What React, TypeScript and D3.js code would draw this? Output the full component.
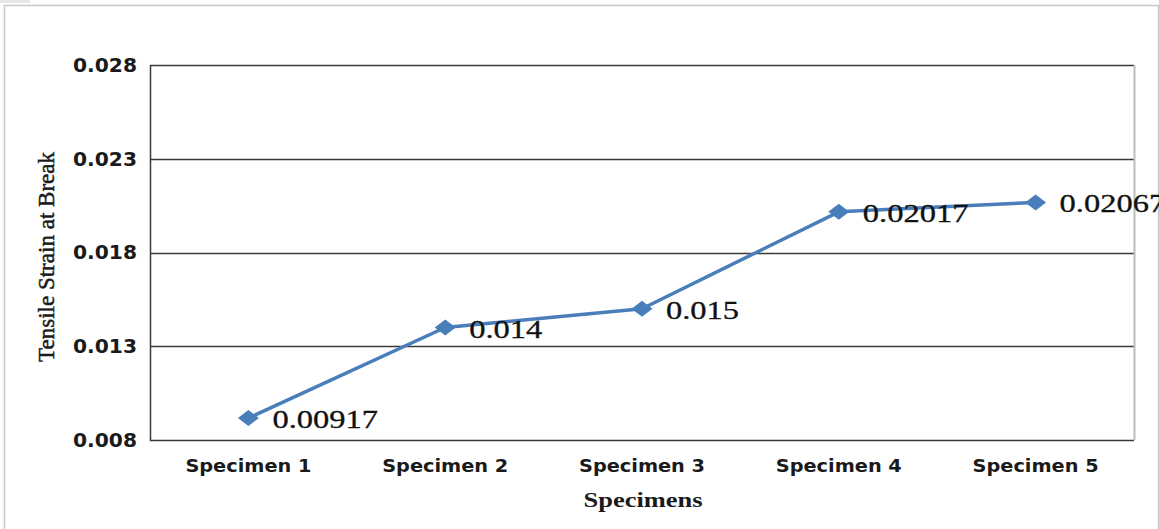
import React, { useEffect, useRef } from 'react';
import * as d3 from 'd3';

const specimens = ['Specimen 1', 'Specimen 2', 'Specimen 3', 'Specimen 4', 'Specimen 5'];
const strain = [0.00917, 0.014, 0.015, 0.02017, 0.02067];
const strainLabels = ['0.00917', '0.014', '0.015', '0.02017', '0.02067'];
const yTicks = [0.008, 0.013, 0.018, 0.023, 0.028];

const W = 1159;
const H = 529;

function StrainChart() {
  const ref = useRef<SVGSVGElement>(null);

  useEffect(() => {
    const svg = d3.select(ref.current);
    svg.selectAll('*').remove();

    const left = 150, right = 1134, top = 65, bottom = 440;

    const x = d3.scaleBand().domain(specimens).range([left, right]);
    const y = d3.scaleLinear().domain([0.008, 0.028]).range([bottom, top]);

    // outer frame (chart area border)
    svg.append('rect').attr('x', 0).attr('y', 0).attr('width', 30).attr('height', 3).attr('fill', '#e6e6e6');
    svg.append('path')
      .attr('d', `M4.5,${H} V5.5 H1158.5 V${H}`)
      .attr('fill', 'none')
      .attr('stroke', '#c8c8c8')
      .attr('stroke-width', 1.5);

    // gridlines
    svg.append('g')
      .selectAll('line')
      .data(yTicks)
      .enter()
      .append('line')
      .attr('x1', left)
      .attr('x2', right)
      .attr('y1', d => Math.round(y(d)) + 0.5)
      .attr('y2', d => Math.round(y(d)) + 0.5)
      .attr('stroke', '#3a3a3a')
      .attr('stroke-width', 1.3);

    // right border of plot
    svg.append('line')
      .attr('x1', right + 0.5).attr('x2', right + 0.5)
      .attr('y1', top).attr('y2', bottom)
      .attr('stroke', '#bdbdbd').attr('stroke-width', 2);

    // left axis line
    svg.append('line')
      .attr('x1', left + 0.5).attr('x2', left + 0.5)
      .attr('y1', top).attr('y2', bottom + 1)
      .attr('stroke', '#3a3a3a').attr('stroke-width', 1.5);

    // y tick labels
    svg.append('g')
      .selectAll('text')
      .data(yTicks)
      .enter()
      .append('text')
      .attr('x', 137)
      .attr('y', d => y(d))
      .attr('dy', '0.35em')
      .attr('text-anchor', 'end')
      .attr('textLength', 64)
      .attr('lengthAdjust', 'spacingAndGlyphs')
      .style('font-family', 'DejaVu Sans')
      .style('font-weight', 'bold')
      .style('font-size', '19.5px')
      .style('fill', '#1a1a1a')
      .text(d => d3.format('.3f')(d));

    // x tick labels
    svg.append('g')
      .selectAll('text')
      .data(specimens)
      .enter()
      .append('text')
      .attr('x', d => x(d)! + x.bandwidth() / 2)
      .attr('y', 466)
      .attr('dy', '0.35em')
      .attr('text-anchor', 'middle')
      .attr('textLength', 126)
      .attr('lengthAdjust', 'spacingAndGlyphs')
      .style('font-family', 'DejaVu Sans')
      .style('font-weight', 'bold')
      .style('font-size', '17.5px')
      .style('fill', '#1a1a1a')
      .text(d => d);

    // axis titles
    svg.append('text')
      .attr('x', 643)
      .attr('y', 507)
      .attr('text-anchor', 'middle')
      .attr('textLength', 119)
      .attr('lengthAdjust', 'spacingAndGlyphs')
      .style('font-family', 'Liberation Serif')
      .style('font-weight', 'bold')
      .style('font-size', '22px')
      .style('fill', '#1a1a1a')
      .text('Specimens');

    svg.append('text')
      .attr('transform', 'translate(54,257) rotate(-90)')
      .attr('text-anchor', 'middle')
      .attr('textLength', 210)
      .attr('lengthAdjust', 'spacingAndGlyphs')
      .style('font-family', 'Liberation Serif')
      .style('font-size', '24px')
      .style('fill', '#1a1a1a')
      .style('stroke', '#1a1a1a')
      .style('stroke-width', 0.5)
      .text('Tensile Strain at Break');

    const pts = specimens.map((s, i) => [x(s)! + x.bandwidth() / 2, y(strain[i])] as [number, number]);

    // series line
    svg.append('path')
      .datum(pts)
      .attr('d', d3.line())
      .attr('fill', 'none')
      .attr('stroke', '#4a7ebb')
      .attr('stroke-width', 3.5)
      .attr('stroke-linejoin', 'round');

    // diamond markers
    svg.append('g')
      .selectAll('path')
      .data(pts)
      .enter()
      .append('path')
      .attr('d', d => `M${d[0] - 10.5},${d[1]} L${d[0]},${d[1] - 8} L${d[0] + 10.5},${d[1]} L${d[0]},${d[1] + 8} Z`)
      .attr('fill', '#4a7ebb');

    // data labels
    svg.append('g')
      .selectAll('text')
      .data(pts)
      .enter()
      .append('text')
      .attr('transform', d => `translate(${d[0] + 24},${d[1] + 10}) scale(1.3,1)`)
      .style('font-family', 'Liberation Serif')
      .style('font-size', '25px')
      .style('fill', '#111')
      .style('stroke', '#111')
      .style('stroke-width', 0.3)
      .text((d, i) => strainLabels[i]);
  }, []);

  return (
    <svg
      ref={ref}
      width={W}
      height={H}
      style={{ position: 'absolute', left: 0, top: 0, background: '#fff' }}
    ></svg>
  );
}

export default function App() {
  return <StrainChart />;
}
